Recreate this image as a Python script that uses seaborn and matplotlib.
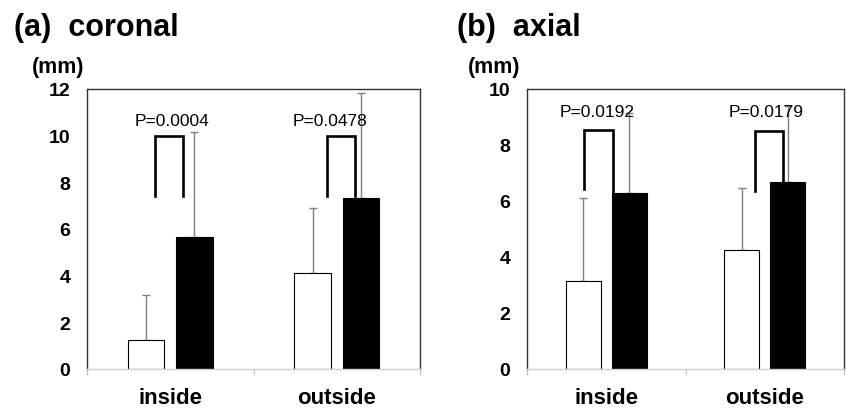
import numpy as np
import pandas as pd
import seaborn as sb
import matplotlib.pyplot as plt

## Data (mm)
regions = ['inside', 'outside']
groups = ['group 1', 'group 2']

coronal_mean = [[1.26, 5.64], [4.10, 7.33]]   # [region][group]
coronal_sd = [[1.91, 4.53], [2.80, 4.52]]
axial_mean = [[3.15, 6.30], [4.26, 6.68]]
axial_sd = [[2.95, 2.85], [2.19, 2.70]]

coronal_p = ['P=0.0004', 'P=0.0478']
axial_p = ['P=0.0192', 'P=0.0179']

# brackets: x left, x right, y top, y bottom left, y bottom right
coronal_brackets = [(-0.09, 0.078, 10.0, 7.4, 7.4), (0.941, 1.111, 10.0, 7.4, 7.4)]
axial_brackets = [(-0.142, 0.041, 8.54, 6.43, 6.32), (0.94, 1.116, 8.49, 6.35, 6.68)]
coronal_p_pos = [(0.01, 10.63), (0.96, 10.63)]
axial_p_pos = [(-0.06, 9.18), (1.01, 9.18)]


def make_df(mean, sd):
    rows = []
    for r in range(len(regions)):
        for g in range(len(groups)):
            rows.append({'region': regions[r], 'group': groups[g],
                         'value': mean[r][g], 'sd': sd[r][g]})
    return pd.DataFrame(rows)


def draw_panel(ax, mean, sd, ymax, ystep, pvals, ppos, brackets):
    df = make_df(mean, sd)
    sb.barplot(data=df, x='region', y='value', hue='group', hue_order=groups,
               palette=['white', 'black'], edgecolor='black', linewidth=0.8,
               width=0.58, gap=0.24, errorbar=None, legend=False, ax=ax)
    # upper error bars only, matched to the bar patches
    bars = sorted(ax.patches, key=lambda p: p.get_x())
    for p, (_, row) in zip(bars, df.sort_values(['region', 'group']).iterrows()):
        xc = p.get_x() + p.get_width() / 2
        ax.errorbar(xc, row['value'], yerr=[[0], [row['sd']]], fmt='none',
                    ecolor='#7f7f7f', elinewidth=1.0, capsize=3, capthick=1.0, zorder=1)
    for p in bars:
        p.set_zorder(2)
    # significance brackets
    for (xl, xr, yt, ybl, ybr) in brackets:
        ax.plot([xl, xl, xr, xr], [ybl, yt, yt, ybr], color='black', lw=1.9,
                solid_joinstyle='miter', zorder=3)
    for txt, (px, py) in zip(pvals, ppos):
        ax.text(px, py, txt, ha='center', va='center', fontsize=12.5, zorder=4)

    ax.set_ylim(0, ymax)
    ax.set_yticks(np.arange(0, ymax + 0.1, ystep))
    ax.set_xlim(-0.5, 1.5)
    ax.set_xlabel('')
    ax.set_ylabel('')
    ax.tick_params(axis='y', length=0, pad=12, labelsize=14)
    for lab in ax.get_yticklabels():
        lab.set_fontweight('bold')
    ax.set_xticks([0, 1])
    ax.set_xticklabels(regions, fontsize=16, fontweight='bold')
    ax.tick_params(axis='x', which='major', length=0, pad=13)
    ax.set_xticks([-0.5, 0.5, 1.5], minor=True)
    ax.tick_params(axis='x', which='minor', length=4, color='#c8c8c8', width=1)
    for s in ['top', 'left', 'right']:
        ax.spines[s].set_color('#333333')
        ax.spines[s].set_linewidth(1.0)
    ax.spines['bottom'].set_color('#d0d0d0')
    ax.spines['bottom'].set_linewidth(1.0)


plt.rcParams['font.family'] = ['Liberation Sans', 'DejaVu Sans']
fig = plt.figure(figsize=(8.46, 4.10), dpi=100)
ax1 = fig.add_axes([87 / 846, 40 / 410, 333 / 846, 280 / 410])
ax2 = fig.add_axes([527 / 846, 40 / 410, 317 / 846, 280 / 410])

draw_panel(ax1, coronal_mean, coronal_sd, 12, 2, coronal_p, coronal_p_pos, coronal_brackets)
draw_panel(ax2, axial_mean, axial_sd, 10, 2, axial_p, axial_p_pos, axial_brackets)

fig.text(14 / 846, 1 - 28 / 410, '(a)  coronal', fontsize=22, fontweight='bold', va='center')
fig.text(457 / 846, 1 - 28 / 410, '(b)  axial', fontsize=22, fontweight='bold', va='center')
fig.text(32 / 846, 1 - 67 / 410, '(mm)', fontsize=15.5, fontweight='bold', va='center')
fig.text(468 / 846, 1 - 67 / 410, '(mm)', fontsize=15.5, fontweight='bold', va='center')

fig.savefig('out.png', dpi=100)
